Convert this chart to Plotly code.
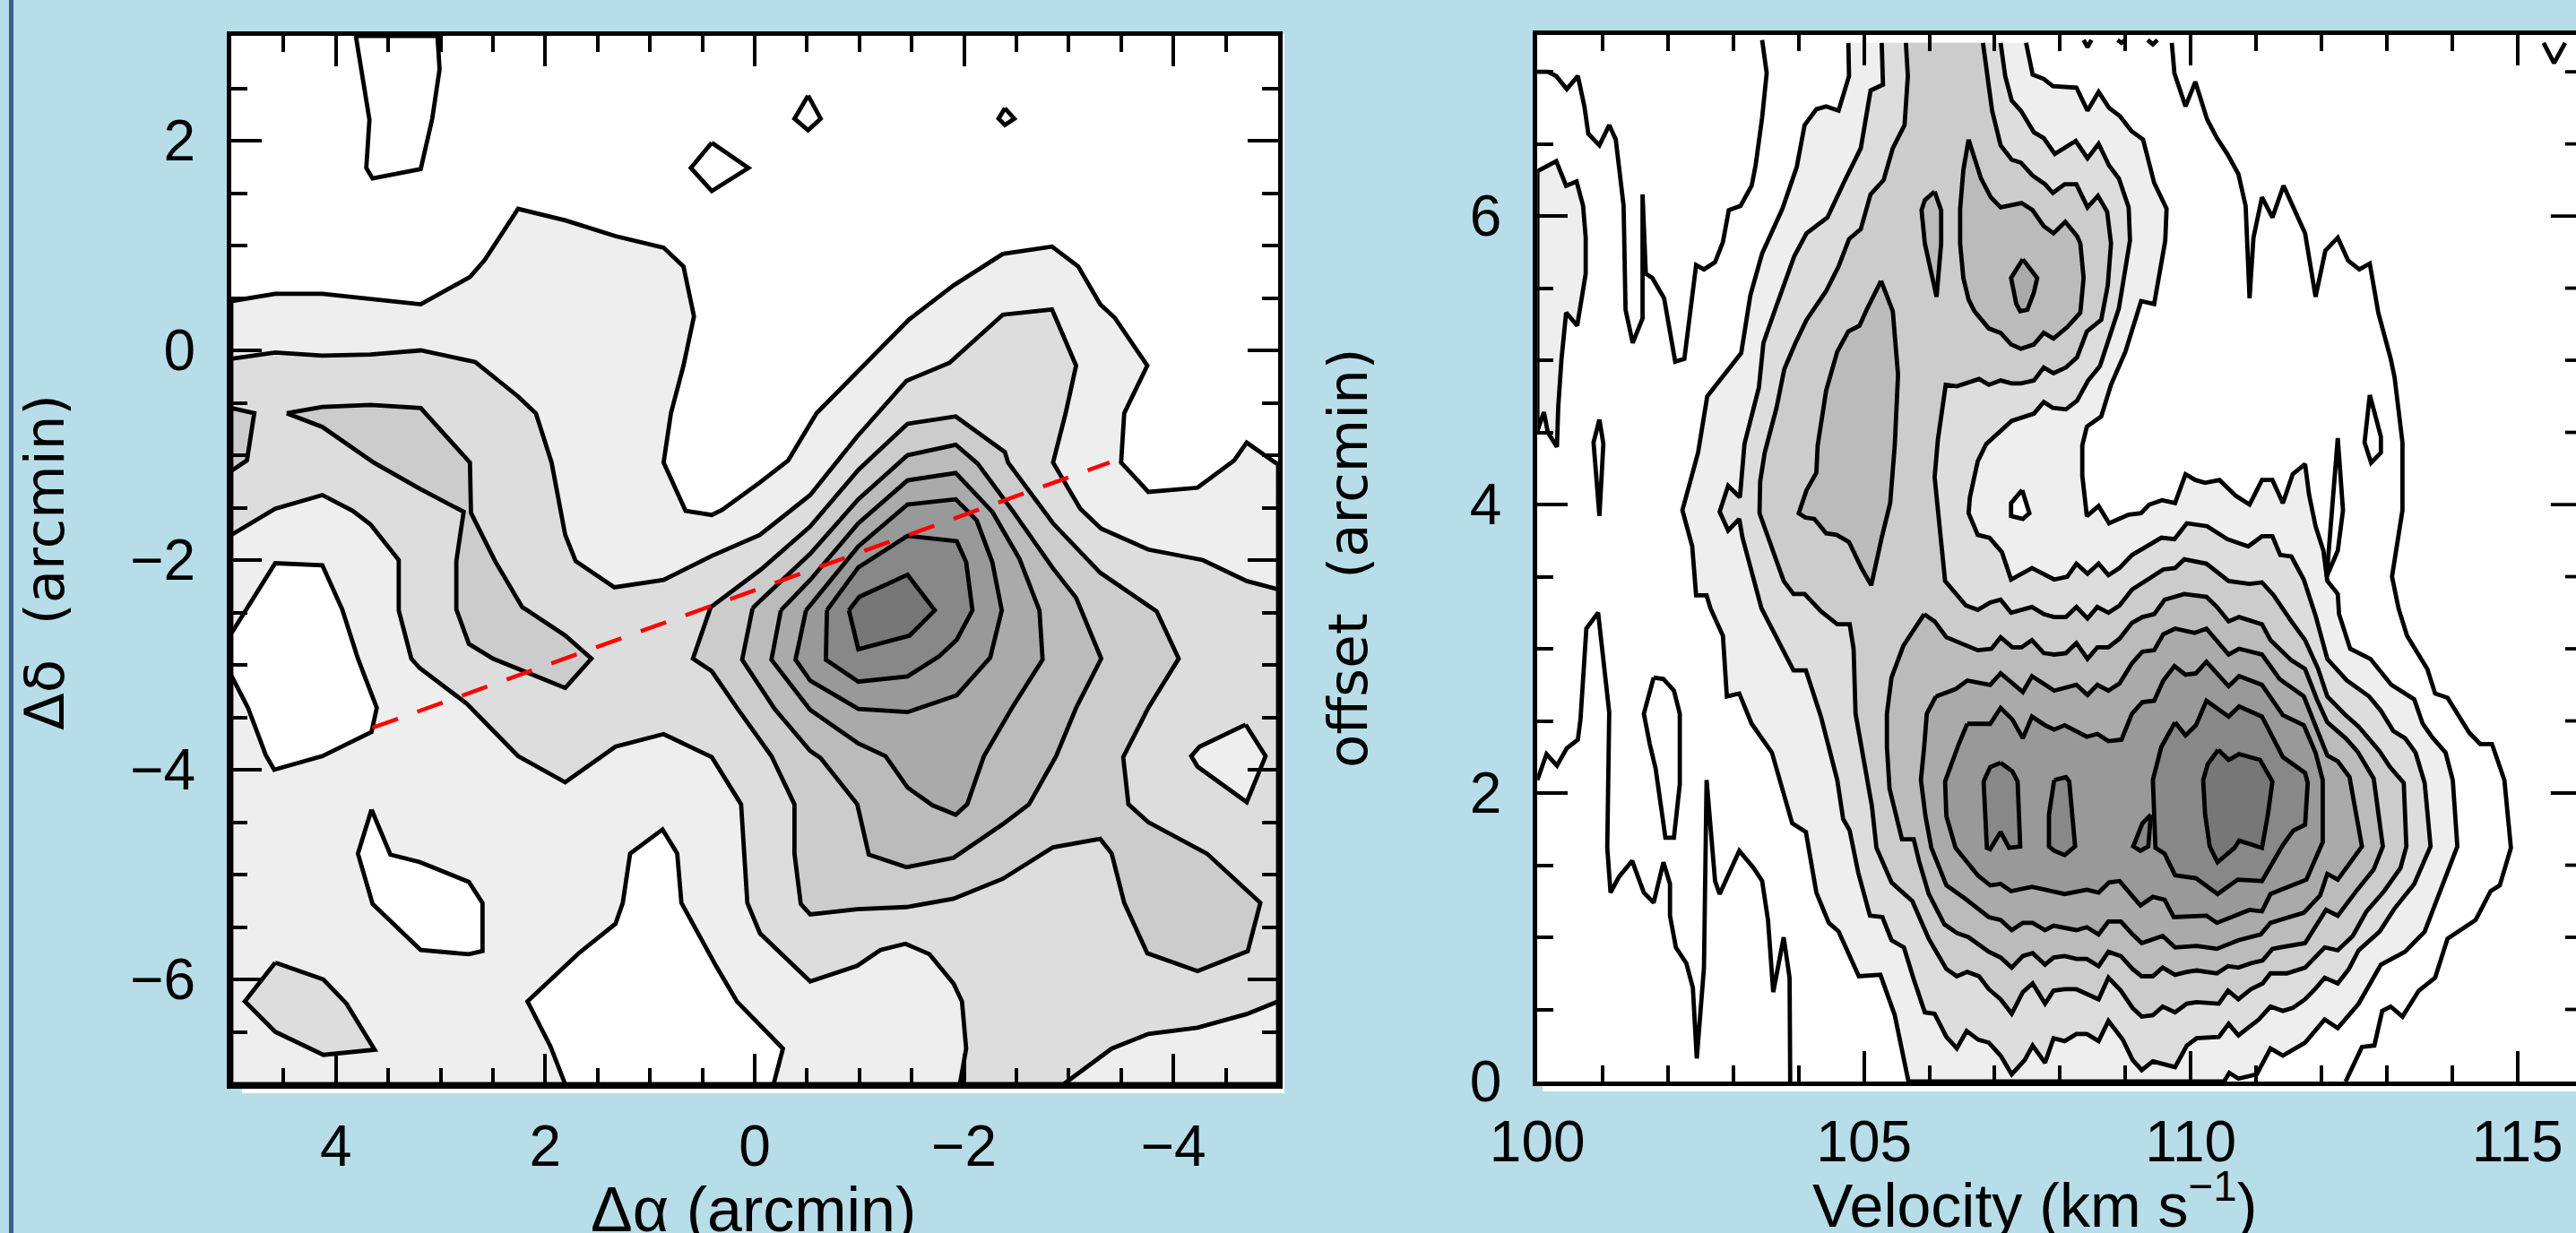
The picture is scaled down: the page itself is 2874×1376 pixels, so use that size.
import plotly.graph_objects as go

# ---------- left map: contour outlines (delta-alpha, delta-delta in arcmin) ----------
left_l1 = [(5,0.47),(4.58,0.54),(4.13,0.54),(3.67,0.49),(3.19,0.44),(2.72,0.70),(2.58,0.86),(2.26,1.35),(1.81,1.24),(1.33,1.09),(0.87,0.98),(0.68,0.80),(0.58,0.325),(0.68,-0.145),(0.8,-0.60),(0.87,-1.07),(0.66,-1.53),(0.41,-1.57),(0.31,-1.52),(-0.05,-1.26),(-0.32,-1.05),(-0.59,-0.60),(-1.04,-0.145),(-1.47,0.29),(-1.90,0.62),(-2.37,0.92),(-2.84,0.99),(-3.09,0.80),(-3.30,0.44),(-3.44,0.31),(-3.75,-0.145),(-3.53,-0.60),(-3.50,-1.07),(-3.76,-1.35),(-4.23,-1.31),(-4.58,-1.05),(-4.70,-0.88),(-5,-1.09),(-5,-7),(5,-7)]
left_hole_a = [(5,-2.70),(4.58,-2.03),(4.13,-2.05),(3.94,-2.47),(3.79,-2.94),(3.61,-3.41),(3.66,-3.64),(4.13,-3.87),(4.59,-4.0),(4.67,-3.86),(4.84,-3.41),(5,-3.10)]
left_hole_b = [(3.66,-4.38),(3.48,-4.81),(3.2,-4.88),(2.73,-5.07),(2.6,-5.27),(2.6,-5.73),(2.73,-5.76),(3.19,-5.72),(3.65,-5.28),(3.79,-4.8)]
left_hole_c = [(1.81,-7),(1.95,-6.64),(2.17,-6.21),(1.68,-5.75),(1.33,-5.47),(1.26,-5.27),(1.19,-4.8),(0.88,-4.57),(0.74,-4.8),(0.7,-5.27),(0.37,-5.87),(0.17,-6.21),(-0.27,-6.66),(-0.18,-7)]
left_top_a = [(3.81,3),(3.68,2.2),(3.71,1.74),(3.65,1.64),(3.19,1.73),(3.08,2.21),(3.01,2.68),(3.03,3)]
left_dia_a = [(0.41,1.98),(0.06,1.74),(0.41,1.52),(0.61,1.74)]
left_dia_b = [(-0.51,2.43),(-0.63,2.21),(-0.51,2.10),(-0.38,2.21)]
left_dia_c = [(-2.39,2.31),(-2.48,2.21),(-2.39,2.15),(-2.33,2.21)]
left_l2 = [(5,-0.08),(4.58,-0.02),(4.13,-0.05),(3.67,-0.04),(3.19,0),(2.67,-0.11),(2.26,-0.44),(2.09,-0.60),(1.94,-1.07),(1.81,-1.76),(1.71,-2.01),(1.34,-2.26),(0.87,-2.19),(0.41,-1.96),(-0.05,-1.76),(-0.53,-1.38),(-0.98,-0.82),(-1.45,-0.29),(-1.86,-0.12),(-2.37,0.34),(-2.84,0.39),(-3.07,-0.145),(-2.97,-0.60),(-2.85,-1.07),(-3.11,-1.51),(-3.31,-1.70),(-3.76,-1.9),(-4.28,-2.0),(-4.70,-2.2),(-5,-2.28),(-5,-6.21),(-4.7,-6.33),(-4.23,-6.46),(-3.76,-6.52),(-3.41,-6.66),(-2.95,-7),(-1.96,-7),(-2.02,-6.66),(-1.98,-6.21),(-1.9,-6.04),(-1.67,-5.76),(-1.44,-5.66),(-1.2,-5.72),(-0.98,-5.87),(-0.53,-6.02),(-0.05,-5.56),(0.07,-5.27),(0.13,-4.33),(0.41,-3.88),(0.87,-3.66),(1.33,-3.78),(1.81,-4.12),(2.26,-3.87),(2.75,-3.37),(3.2,-3.03),(3.28,-2.94),(3.4,-2.48),(3.4,-2.0),(3.67,-1.66),(3.84,-1.53),(4.13,-1.38),(4.58,-1.51),(5,-1.76)]
left_island_l1 = [(-4.69,-3.57),(-4.88,-3.87),(-4.7,-4.31),(-4.23,-3.97),(-4.17,-3.87),(-4.25,-3.78)]
left_island_l2 = [(4.58,-5.84),(4.12,-6.0),(3.9,-6.23),(3.63,-6.67),(4.12,-6.72),(4.58,-6.5),(4.87,-6.21)]
left_l3_branch = [(4.47,-0.60),(4.13,-0.73),(3.64,-1.07),(3.2,-1.32),(2.78,-1.54),(2.85,-2.01),(2.85,-2.47),(2.73,-2.8),(2.5,-2.94),(1.81,-3.22),(1.56,-2.94),(1.81,-2.72),(2.17,-2.48),(2.22,-2.45),(2.48,-2.01),(2.71,-1.55),(2.72,-1.07),(3.19,-0.55),(3.67,-0.52),(4.13,-0.54)]
left_l3_edge = [(5,-0.55),(4.78,-0.60),(4.85,-1.05),(5,-1.15)]
left_l3 = [(0.42,-2.45),(-0.06,-2.09),(-0.53,-1.68),(-0.99,-1.14),(-1.46,-0.70),(-1.92,-0.63),(-2.39,-0.97),(-2.42,-1.07),(-2.85,-1.65),(-3.07,-1.88),(-3.3,-2.12),(-3.84,-2.49),(-4.05,-2.94),(-3.76,-3.41),(-3.52,-3.88),(-3.57,-4.33),(-3.76,-4.5),(-4.32,-4.8),(-4.83,-5.27),(-4.71,-5.73),(-4.23,-5.92),(-3.75,-5.75),(-3.53,-5.27),(-3.41,-4.8),(-3.3,-4.66),(-2.85,-4.74),(-2.37,-5.04),(-1.9,-5.23),(-1.45,-5.31),(-0.98,-5.33),(-0.53,-5.38),(-0.44,-5.28),(-0.38,-4.8),(-0.38,-4.33),(-0.16,-3.87),(0.17,-3.41),(0.41,-3.06),(0.59,-2.94)]
left_l4 = [(0.02,-2.46),(-0.05,-2.39),(-0.53,-1.94),(-0.99,-1.42),(-1.46,-1.0),(-1.92,-0.90),(-2.13,-1.08),(-2.47,-1.54),(-2.85,-2.08),(-3.07,-2.36),(-3.31,-2.94),(-3.07,-3.41),(-2.88,-3.87),(-2.62,-4.33),(-2.37,-4.52),(-1.9,-4.84),(-1.45,-4.93),(-1.09,-4.81),(-0.98,-4.33),(-0.63,-3.89),(-0.53,-3.82),(-0.19,-3.42),(0.12,-2.95)]
left_l5 = [(-0.25,-2.48),(-0.53,-2.19),(-0.99,-1.65),(-1.46,-1.24),(-1.92,-1.17),(-2.27,-1.54),(-2.53,-1.99),(-2.72,-2.48),(-2.75,-2.95),(-2.47,-3.39),(-2.19,-3.87),(-2.03,-4.33),(-1.92,-4.43),(-1.70,-4.34),(-1.46,-4.17),(-1.25,-3.87),(-0.99,-3.75),(-0.53,-3.43),(-0.16,-2.95)]
left_l6 = [(-0.49,-2.48),(-0.99,-1.87),(-1.46,-1.47),(-1.92,-1.42),(-2.12,-1.62),(-2.27,-2.02),(-2.36,-2.48),(-2.25,-2.93),(-1.93,-3.29),(-1.46,-3.45),(-0.99,-3.42),(-0.53,-3.15),(-0.39,-2.95)]
left_l7 = [(-0.69,-2.48),(-0.99,-2.07),(-1.46,-1.77),(-1.93,-1.82),(-2.02,-2.02),(-2.08,-2.48),(-1.93,-2.76),(-1.76,-2.92),(-1.46,-3.11),(-0.99,-3.16),(-0.68,-2.95)]
left_l8 = [(-0.90,-2.48),(-1.0,-2.35),(-1.46,-2.14),(-1.72,-2.48),(-1.48,-2.72),(-0.99,-2.85)]
slit_x = [3.65,-3.39]
slit_y = [-3.60,-1.07]

# ---------- right diagram: contour outlines (velocity km/s, offset arcmin) ----------
right_outer_a = [(100,7.0),(100.16,7.0),(100.29,6.97),(100.45,6.88),(100.62,6.97),(100.72,6.76),(100.78,6.57),(100.95,6.49),(101.10,6.63),(101.2,6.53),(101.32,6.07),(101.35,5.35),(101.46,5.12),(101.61,5.29),(101.61,6.15),(101.66,5.60),(101.76,5.57),(101.94,5.43),(102.11,4.99),(102.25,5.01),(102.43,5.66),(102.55,5.63),(102.72,5.68),(102.84,5.82),(102.93,6.04),(103.11,6.07),(103.28,6.21),(103.34,6.35),(103.44,6.68),(103.51,6.99),(103.44,7.22)]
right_patch = [(100,6.31),(100.29,6.38),(100.44,6.21),(100.6,6.24),(100.7,6.07),(100.74,5.85),(100.74,5.6),(100.64,5.35),(100.61,5.24),(100.44,5.33),(100.37,5.01),(100.32,4.68),(100.3,4.40),(100.16,4.5),(100.1,4.64),(100,4.51)]
right_spindle_a = [(100.95,4.59),(101.01,4.42),(100.95,3.92),(100.86,4.43)]
right_outer_b = [(100,2.09),(100.14,2.27),(100.3,2.19),(100.45,2.31),(100.62,2.37),(100.66,2.51),(100.75,3.14),(100.93,3.25),(101.1,2.56),(101.07,1.62),(101.12,1.31),(101.25,1.42),(101.45,1.53),(101.63,1.31),(101.78,1.24),(101.93,1.52),(102.03,1.37),(102.03,1.15),(102.12,0.93),(102.28,0.82),(102.38,0.65),(102.44,0.16),(102.55,0.79),(102.59,2.09),(102.72,1.39),(102.79,1.30),(103.09,1.60),(103.31,1.48),(103.44,1.39),(103.53,1.12),(103.61,0.62),(103.77,1.0),(103.86,0.72),(103.87,0)]
right_spindle_b = [(101.78,2.80),(101.93,2.79),(102.09,2.71),(102.18,2.55),(102.18,2.06),(102.09,1.69),(101.96,1.69),(101.81,2.17),(101.72,2.34),(101.63,2.55)]
right_outer_c = [(109.71,7.20),(109.75,6.99),(109.92,6.76),(110.07,6.93),(110.25,6.67),(110.40,6.54),(110.56,6.43),(110.73,6.29),(110.84,6.07),(110.90,5.43),(110.96,5.85),(111.09,6.13),(111.25,5.99),(111.42,6.21),(111.75,5.88),(111.91,5.44),(112.06,5.76),(112.25,5.85),(112.41,5.69),(112.58,5.63),(112.74,5.67),(112.87,5.33),(113.06,5.01),(113.12,4.88),(113.24,4.43),(113.24,3.96),(113.08,3.50),(113.18,3.28),(113.31,3.09),(113.62,2.86),(113.74,2.69),(113.93,2.66),(114.26,2.42),(114.43,2.34),(114.61,2.34),(114.8,2.09),(114.9,1.62),(114.73,1.36),(114.59,1.32),(114.36,1.12),(113.93,0.99),(113.74,0.72),(113.49,0.63),(113.24,0.45),(113.06,0.52),(112.93,0.49),(112.81,0.25),(112.62,0.24),(112.37,0)]
right_spike = [(112.08,3.5),(112.16,3.96),(112.25,4.46),(112.33,3.96),(112.25,3.68)]
right_spindle_c = [(112.74,4.76),(112.91,4.47),(112.91,4.36),(112.76,4.29),(112.66,4.43)]
right_top_a = [(108.36,7.22),(108.42,7.17),(108.48,7.22)]
right_top_b = [(108.88,7.22),(108.94,7.20),(109.0,7.22)]
right_top_c = [(109.34,7.22),(109.42,7.19),(109.49,7.22)]
right_top_d = [(115.4,7.2),(115.56,7.06),(115.73,7.2)]

right_l1 = [(104.76,7.20),(104.77,6.97),(104.61,6.73),(104.42,6.76),(104.27,6.74),(104.09,6.63),(103.97,6.34),(103.75,6.05),(103.44,5.74),(103.26,5.45),(103.12,5.05),(102.85,4.89),(102.60,4.75),(102.46,4.36),(102.22,3.96),(102.37,3.71),(102.43,3.37),(102.59,3.37),(102.65,3.28),(102.84,3.09),(102.9,2.67),(103.09,2.69),(103.28,2.48),(103.59,2.28),(103.9,1.79),(104.11,1.73),(104.18,1.534),(104.27,1.31),(104.46,1.10),(104.61,1.04),(104.92,0.73),(105.25,0.74),(105.47,0.46),(105.68,0),(110.51,0),(110.59,0.06),(110.73,0.02),(110.95,0.04),(111.01,0.05),(111.22,0.23),(111.41,0.18),(111.75,0.27),(112.05,0.43),(112.25,0.37),(112.57,0.54),(112.91,0.81),(113.28,0.90),(113.58,1.04),(114.08,1.63),(114.01,2.09),(113.90,2.28),(113.69,2.39),(113.55,2.48),(113.42,2.65),(113.07,2.75),(112.75,2.93),(112.44,3.0),(112.27,3.24),(112.25,3.38),(112.09,3.47),(112.03,3.68),(111.91,3.85),(111.81,4.07),(111.75,4.28),(111.56,4.21),(111.41,4.01),(111.25,4.17),(111.09,4.17),(110.9,4.0),(110.69,4.06),(110.44,4.17),(110.22,4.15),(110.07,4.17),(109.92,4.21),(109.76,4.01),(109.56,4.03),(109.36,3.998),(109.24,3.94),(109.05,3.93),(108.75,3.87),(108.59,3.99),(108.41,3.92),(108.34,4.2),(108.34,4.41),(108.41,4.54),(108.63,4.61),(108.78,4.83),(109.0,5.06),(109.24,5.41),(109.44,5.39),(109.61,5.83),(109.63,6.05),(109.44,6.23),(109.27,6.53),(109.09,6.59),(108.92,6.69),(108.75,6.75),(108.59,6.86),(108.42,6.73),(108.25,6.89),(107.89,6.90),(107.75,6.95),(107.58,6.98),(107.48,7.20)]
right_hole = [(107.42,4.10),(107.53,3.94),(107.43,3.90),(107.25,3.92),(107.25,4.01)]
right_l2 = [(105.27,7.20),(105.29,6.91),(105.10,6.87),(104.95,6.47),(104.71,6.25),(104.44,5.99),(104.12,5.88),(103.93,5.72),(103.63,5.34),(103.46,5.12),(103.39,4.81),(103.17,4.42),(103.10,4.05),(102.92,4.13),(102.79,3.95),(102.92,3.82),(103.09,3.90),(103.14,3.77),(103.43,3.28),(103.77,2.98),(103.92,2.85),(104.11,2.85),(104.34,2.53),(104.59,2.09),(104.68,1.82),(104.78,1.74),(104.91,1.45),(105.09,1.15),(105.28,1.14),(105.42,0.98),(105.61,0.93),(105.76,0.71),(105.93,0.48),(106.08,0.47),(106.26,0.31),(106.42,0.23),(106.57,0.35),(106.75,0.29),(106.91,0.27),(107.09,0.18),(107.26,0.05),(107.46,0.15),(107.58,0.25),(107.77,0.13),(107.90,0.30),(108.07,0.28),(108.25,0.33),(108.41,0.33),(108.59,0.28),(108.74,0.42),(108.96,0.29),(109.11,0.15),(109.25,0.08),(109.42,0.14),(109.76,0.10),(109.94,0.25),(110.09,0.30),(110.43,0.31),(110.58,0.40),(110.73,0.32),(111.04,0.43),(111.22,0.52),(111.41,0.49),(111.56,0.51),(111.75,0.57),(111.90,0.64),(112.05,0.72),(112.25,0.68),(112.42,0.78),(112.57,0.91),(112.89,1.04),(113.12,1.2),(113.42,1.37),(113.67,1.63),(113.58,2.07),(113.44,2.28),(113.28,2.38),(113.1,2.43),(112.91,2.57),(112.73,2.67),(112.39,2.78),(112.09,2.93),(111.98,3.11),(111.91,3.23),(111.73,3.48),(111.54,3.64),(111.37,3.65),(111.25,3.78),(111.09,3.78),(110.88,3.71),(110.56,3.76),(110.25,3.85),(109.94,3.87),(109.75,3.76),(109.55,3.77),(109.10,3.65),(108.91,3.56),(108.74,3.51),(108.59,3.59),(108.42,3.52),(108.25,3.59),(108.11,3.50),(107.91,3.48),(107.57,3.56),(107.25,3.48),(107.11,3.67),(106.92,3.77),(106.74,3.79),(106.60,3.94),(106.62,4.05),(106.74,4.30),(106.87,4.42),(107.26,4.58),(107.60,4.63),(107.75,4.71),(107.89,4.67),(108.09,4.66),(108.26,4.72),(108.43,4.86),(108.61,4.96),(108.90,5.36),(109.07,5.83),(109.05,6.06),(108.90,6.26),(108.75,6.35),(108.59,6.50),(108.42,6.40),(108.24,6.52),(107.92,6.43),(107.75,6.54),(107.60,6.58),(107.40,6.73),(107.26,6.80),(107.16,6.97),(107.09,7.20)]
right_l3 = [(105.64,7.20),(105.67,6.97),(105.62,6.63),(105.44,6.47),(105.30,6.25),(105.10,6.15),(104.95,5.91),(104.77,5.84),(104.61,5.65),(104.42,5.48),(104.12,5.28),(103.95,5.12),(103.78,4.94),(103.66,4.67),(103.48,4.36),(103.41,4.16),(103.40,3.94),(103.53,3.78),(103.77,3.47),(103.92,3.38),(104.09,3.38),(104.34,3.26),(104.59,3.17),(104.78,3.17),(104.84,3.0),(104.87,2.55),(104.98,2.28),(105.12,1.91),(105.19,1.62),(105.42,1.38),(105.74,1.25),(105.99,0.99),(106.26,0.78),(106.42,0.73),(106.58,0.76),(106.76,0.73),(106.91,0.64),(107.09,0.57),(107.26,0.47),(107.43,0.62),(107.58,0.68),(107.77,0.54),(107.90,0.63),(108.07,0.64),(108.25,0.64),(108.41,0.61),(108.59,0.57),(108.74,0.72),(108.93,0.63),(109.11,0.51),(109.25,0.45),(109.42,0.46),(109.57,0.52),(109.76,0.48),(109.94,0.54),(110.09,0.55),(110.43,0.54),(110.57,0.63),(110.73,0.57),(110.92,0.64),(111.10,0.68),(111.22,0.75),(111.47,0.75),(111.75,0.79),(112.05,0.93),(112.25,0.91),(112.48,1.01),(112.69,1.18),(112.96,1.32),(113.21,1.48),(113.30,1.63),(113.26,2.07),(113.05,2.18),(112.89,2.29),(112.57,2.46),(112.37,2.54),(112.09,2.67),(111.95,2.86),(111.75,3.06),(111.54,3.19),(111.27,3.37),(111.09,3.46),(110.90,3.45),(110.58,3.47),(110.24,3.59),(109.90,3.62),(109.76,3.56),(109.58,3.55),(109.44,3.51),(109.10,3.41),(108.91,3.30),(108.74,3.25),(108.57,3.29),(108.42,3.21),(108.25,3.29),(108.09,3.22),(107.91,3.22),(107.75,3.24),(107.57,3.29),(107.25,3.25),(107.09,3.34),(106.93,3.32),(106.74,3.27),(106.56,3.30),(106.24,3.47),(106.17,3.77),(106.08,4.19),(106.13,4.45),(106.20,4.70),(106.25,4.83),(106.42,4.82),(106.57,4.84),(106.76,4.87),(106.91,4.83),(107.09,4.86),(107.26,4.84),(107.40,4.84),(107.60,4.86),(107.75,4.95),(107.90,4.91),(108.09,4.95),(108.26,5.02),(108.41,5.20),(108.63,5.28),(108.73,5.52),(108.78,5.81),(108.72,6.03),(108.58,6.14),(108.42,6.06),(108.25,6.22),(108.07,6.22),(107.89,6.16),(107.77,6.22),(107.58,6.28),(107.40,6.37),(107.26,6.39),(107.09,6.49),(106.96,6.73),(106.89,6.96),(106.82,7.20)]
right_l4_lens = [(105.26,5.55),(105.44,5.34),(105.52,4.90),(105.47,4.41),(105.40,4.01),(105.27,3.77),(105.11,3.44),(104.96,3.56),(104.77,3.74),(104.58,3.79),(104.42,3.80),(104.24,3.90),(104.10,3.91),(104.0,3.94),(104.12,4.10),(104.27,4.22),(104.29,4.41),(104.42,4.79),(104.59,5.06),(104.76,5.20),(104.93,5.24),(105.05,5.36)]
right_l4_spindle = [(106.08,6.17),(106.18,6.04),(106.18,5.81),(106.11,5.44),(105.93,5.81),(105.88,6.04),(105.93,6.11)]
right_l4_upper = [(106.60,6.53),(106.79,6.26),(106.94,6.13),(107.09,6.06),(107.41,6.09),(107.58,6.04),(107.75,5.93),(107.90,5.88),(108.08,5.96),(108.26,5.86),(108.31,5.81),(108.36,5.57),(108.31,5.33),(108.11,5.23),(107.90,5.15),(107.75,5.19),(107.60,5.11),(107.40,5.08),(107.25,5.11),(107.09,5.19),(106.91,5.22),(106.69,5.34),(106.60,5.42),(106.52,5.57),(106.47,5.81),(106.47,6.05),(106.52,6.32)]
right_l5_diamond = [(107.43,5.70),(107.65,5.57),(107.60,5.47),(107.50,5.35),(107.39,5.34),(107.33,5.39),(107.25,5.57)]
right_l4 = [(105.92,3.24),(106.08,3.19),(106.26,3.08),(106.74,2.99),(106.95,3.0),(107.09,3.08),(107.27,3.01),(107.41,3.01),(107.57,3.06),(107.75,2.97),(107.91,2.96),(108.09,2.97),(108.25,3.04),(108.42,2.93),(108.57,3.01),(108.74,3.01),(108.91,3.07),(109.10,3.18),(109.26,3.22),(109.44,3.24),(109.60,3.34),(109.90,3.38),(110.24,3.36),(110.40,3.29),(110.58,3.19),(110.74,3.22),(111.09,3.17),(111.22,3.06),(111.54,2.92),(111.75,2.86),(111.93,2.65),(112.09,2.49),(112.37,2.38),(112.55,2.29),(112.80,2.10),(112.94,1.63),(112.80,1.47),(112.55,1.33),(112.25,1.15),(112.07,1.19),(111.75,0.96),(111.47,0.94),(111.25,0.92),(111.10,0.84),(110.92,0.82),(110.73,0.79),(110.57,0.80),(110.40,0.75),(110.09,0.77),(109.94,0.76),(109.76,0.74),(109.57,0.79),(109.42,0.73),(109.25,0.73),(109.11,0.78),(108.93,0.87),(108.74,0.90),(108.59,0.80),(108.41,0.85),(108.25,0.85),(108.07,0.87),(107.90,0.86),(107.77,0.81),(107.58,0.89),(107.43,0.87),(107.26,0.79),(107.09,0.86),(106.91,0.90),(106.60,1.0),(106.42,1.03),(106.23,1.09),(105.99,1.30),(105.84,1.53),(105.76,1.68),(105.58,1.68),(105.39,2.03),(105.35,2.32),(105.35,2.55),(105.42,2.80),(105.60,3.02)]
right_l5 = [(106.10,2.67),(106.40,2.72),(106.58,2.78),(106.93,2.75),(107.09,2.83),(107.43,2.70),(107.57,2.81),(107.91,2.71),(108.25,2.75),(108.42,2.68),(108.57,2.75),(108.74,2.71),(108.91,2.76),(109.10,2.90),(109.26,2.98),(109.44,2.99),(109.58,3.10),(109.76,3.14),(110.06,3.11),(110.24,3.14),(110.58,2.96),(110.74,3.0),(111.09,2.96),(111.36,2.79),(111.73,2.67),(111.89,2.49),(112.09,2.26),(112.25,2.22),(112.43,2.11),(112.62,1.63),(112.25,1.40),(112.09,1.44),(111.98,1.29),(111.73,1.17),(111.22,1.10),(111.07,1.02),(110.73,0.98),(110.40,0.92),(110.09,0.94),(109.76,0.93),(109.57,1.01),(109.25,0.96),(109.11,1.02),(108.93,1.11),(108.74,1.11),(108.59,1.02),(108.41,1.07),(108.25,1.05),(107.90,1.08),(107.77,1.05),(107.58,1.10),(107.43,1.10),(107.26,1.05),(107.09,1.12),(106.91,1.14),(106.54,1.27),(106.26,1.36),(106.11,1.53),(106.03,1.62),(105.94,1.84),(105.87,2.09),(105.92,2.32),(105.96,2.55)]
right_l6 = [(106.58,2.48),(106.93,2.48),(107.09,2.59),(107.27,2.51),(107.43,2.38),(107.57,2.53),(107.77,2.47),(107.91,2.44),(108.07,2.47),(108.41,2.39),(108.57,2.41),(108.74,2.36),(108.94,2.37),(109.10,2.55),(109.26,2.63),(109.44,2.64),(109.58,2.78),(109.75,2.88),(109.92,2.82),(110.08,2.83),(110.24,2.91),(110.58,2.74),(110.74,2.81),(111.09,2.75),(111.41,2.54),(111.73,2.47),(111.91,2.28),(112.02,2.09),(112.02,1.66),(111.77,1.40),(111.22,1.30),(111.09,1.18),(110.90,1.19),(110.40,1.10),(110.24,1.15),(109.74,1.14),(109.60,1.26),(109.42,1.28),(109.23,1.22),(108.91,1.39),(108.75,1.38),(108.59,1.31),(108.41,1.33),(108.07,1.30),(107.57,1.35),(107.25,1.32),(107.09,1.37),(106.93,1.36),(106.74,1.43),(106.56,1.53),(106.40,1.62),(106.26,1.84),(106.24,2.08),(106.45,2.34)]
right_l7 = [(109.76,2.49),(109.92,2.40),(110.08,2.47),(110.24,2.64),(110.58,2.53),(110.74,2.60),(111.09,2.53),(111.41,2.25),(111.75,2.14),(111.79,2.07),(111.75,1.78),(111.57,1.74),(111.41,1.64),(111.09,1.39),(110.72,1.40),(110.41,1.30),(110.08,1.41),(109.76,1.43),(109.60,1.58),(109.46,1.62),(109.42,2.09),(109.55,2.32)]
right_l7_a = [(107.09,2.21),(107.27,2.15),(107.35,2.08),(107.39,1.63),(107.22,1.62),(107.09,1.73),(106.93,1.61),(106.88,1.62),(106.83,2.08),(106.93,2.18)]
right_l7_b = [(107.91,2.09),(108.09,2.11),(108.14,2.08),(108.23,1.63),(108.07,1.57),(107.91,1.60),(107.83,1.63),(107.83,1.85)]
right_l7_c = [(109.39,1.85),(109.35,1.63),(109.23,1.60),(109.12,1.63),(109.26,1.79)]
right_l8 = [(110.42,2.30),(110.58,2.23),(110.74,2.27),(111.06,2.23),(111.25,2.08),(111.18,1.85),(111.09,1.62),(110.74,1.67),(110.67,1.62),(110.41,1.52),(110.29,1.63),(110.22,1.85),(110.19,2.09),(110.26,2.20)]

right_edge_major = [2, 4, 6]
right_edge_minor = [0.5, 1, 1.5, 2.5, 3, 3.5, 4.5, 5, 5.5, 6.5, 7]

# ---------- styles ----------
WHITE = "#ffffff"; L1 = "#eeeeee"; L2 = "#dddddd"; L3 = "#cccccc"; L4 = "#bbbbbb"
L5 = "#aaaaaa"; L6 = "#999999"; L7 = "#888888"; L8 = "#777777"
BG = "#b7dde8"
LW = 4.8
TW = 3.8
W, H = 2874, 1376

fig = go.Figure()


def add_line(pts, ax):
    fig.add_trace(go.Scatter(x=[p[0] for p in pts], y=[p[1] for p in pts], mode="lines",
                             line=dict(color="black", width=LW), xaxis=ax[0], yaxis=ax[1],
                             showlegend=False, hoverinfo="skip"))


def add_region(pts, colour, ax, closed=True):
    fig.add_trace(go.Scatter(x=[p[0] for p in pts], y=[p[1] for p in pts], mode="lines",
                             fill="toself", fillcolor=colour, line=dict(color=colour, width=0),
                             xaxis=ax[0], yaxis=ax[1], showlegend=False, hoverinfo="skip"))
    add_line(pts + [pts[0]] if closed else pts, ax)


LEFT = ("x", "y")
RIGHT = ("x2", "y2")

for pts, colour in [(left_l1, L1), (left_hole_a, WHITE), (left_hole_b, WHITE), (left_hole_c, WHITE),
                    (left_top_a, WHITE), (left_dia_a, WHITE), (left_dia_b, WHITE), (left_dia_c, WHITE),
                    (left_l2, L2), (left_island_l1, L1), (left_island_l2, L2), (left_l3_branch, L3),
                    (left_l3_edge, L3), (left_l3, L3), (left_l4, L4), (left_l5, L5), (left_l6, L6),
                    (left_l7, L7), (left_l8, L8)]:
    add_region(pts, colour, LEFT)

fig.add_trace(go.Scatter(x=slit_x, y=slit_y, mode="lines", line=dict(color="#ff0000", width=4.5, dash="30px,23px"),
                         xaxis="x", yaxis="y", showlegend=False, hoverinfo="skip"))

add_region(right_l1, L1, RIGHT, closed=False)
add_region(right_hole, WHITE, RIGHT)
add_region(right_patch, L1, RIGHT)
for pts in [right_outer_a, right_outer_b, right_outer_c, right_top_a, right_top_b, right_top_c, right_top_d]:
    add_line(pts, RIGHT)
for pts in [right_spindle_a, right_spindle_b, right_spindle_c, right_spike]:
    add_region(pts, WHITE, RIGHT)
add_region(right_l2, L2, RIGHT, closed=False)
add_region(right_l3, L3, RIGHT, closed=False)
for pts, colour in [(right_l4_lens, L4), (right_l4_spindle, L4), (right_l4_upper, L4), (right_l5_diamond, L5),
                    (right_l4, L4), (right_l5, L5), (right_l6, L6), (right_l7, L7), (right_l7_a, L7),
                    (right_l7_b, L7), (right_l7_c, L7), (right_l8, L8)]:
    add_region(pts, colour, RIGHT)

# ticks of the right-hand frame of the velocity panel (that frame lies just outside the page)
for vals, start in [(right_edge_major, 115.51), (right_edge_minor, 115.73)]:
    xs, ys = [], []
    for v in vals:
        xs += [start, 116, None]
        ys += [v, v, None]
    fig.add_trace(go.Scatter(x=xs, y=ys, mode="lines", line=dict(color="black", width=TW),
                             xaxis="x2", yaxis="y2", showlegend=False, hoverinfo="skip"))

tickfont = dict(family="Liberation Sans", size=64, color="black")


def minor(step, start):
    return dict(dtick=step, tick0=start, ticks="inside", ticklen=18, tickwidth=TW, tickcolor="black", showgrid=False)


def axis(**kw):
    d = dict(showline=True, linecolor="black", linewidth=5, showgrid=False, zeroline=False,
             ticks="inside", ticklen=34, tickwidth=TW, tickcolor="black", tickfont=tickfont, layer="above traces",
             automargin=False)
    d.update(kw)
    return d


def px(v):
    return v / W


def py(v):
    return 1 - v / H


def label(text, x, y, size, family="Liberation Sans", angle=0):
    return dict(text=text, xref="paper", yref="paper", x=px(x), y=py(y), xanchor="center", yanchor="middle",
                textangle=angle, showarrow=False, font=dict(family=family, size=size, color="black"))


fig.update_layout(
    width=W, height=H, margin=dict(l=0, r=0, t=0, b=0, pad=0, autoexpand=False), autosize=False,
    paper_bgcolor=BG, plot_bgcolor="white",
    xaxis=axis(domain=[px(258), px(1426)], range=[5, -5], dtick=2, tick0=0, mirror="allticks", anchor="y",
               ticklabelstandoff=9, minor=minor(0.5, 0)),
    yaxis=axis(domain=[py(1210), py(40)], range=[-7, 3], dtick=2, tick0=0, mirror="allticks", anchor="x",
               ticklabelstandoff=22, minor=minor(0.5, 0)),
    xaxis2=axis(domain=[px(1715.2), 1], range=[100, 115.896], dtick=5, tick0=100, mirror="allticks", anchor="y2",
                ticklabelstandoff=7, minor=minor(1, 100)),
    yaxis2=axis(domain=[py(1207), py(39)], range=[0, 7.255], dtick=2, tick0=0, anchor="x2",
                ticklabelstandoff=22, minor=minor(0.5, 0)),
    shapes=[
        dict(type="rect", xref="paper", yref="paper", x0=px(270), x1=px(1433), y0=py(1220), y1=py(38),
             fillcolor="white", line_width=0, layer="below"),
        dict(type="rect", xref="paper", yref="paper", x0=px(1721), x1=1, y0=py(1218), y1=py(1200),
             fillcolor="white", line_width=0, layer="below"),
        dict(type="rect", xref="paper", yref="paper", x0=px(10), x1=px(15), y0=0, y1=1,
             fillcolor="#3a5e8e", line_width=0, layer="below"),
    ],
    annotations=[
        label("Δδ  (arcmin)", 50, 628, 61, "DejaVu Sans", -90),
        label("offset  (arcmin)", 1503, 623, 61, "DejaVu Sans", -90),
        label("Δα (arcmin)", 840, 1350, 70),
        label("Velocity (km s<sup>−1</sup>)", 2270, 1340, 68),
    ],
)

fig.write_html("out.html", config={"displayModeBar": False},
               post_script="document.body.style.margin='0';document.body.style.overflow='hidden';")
